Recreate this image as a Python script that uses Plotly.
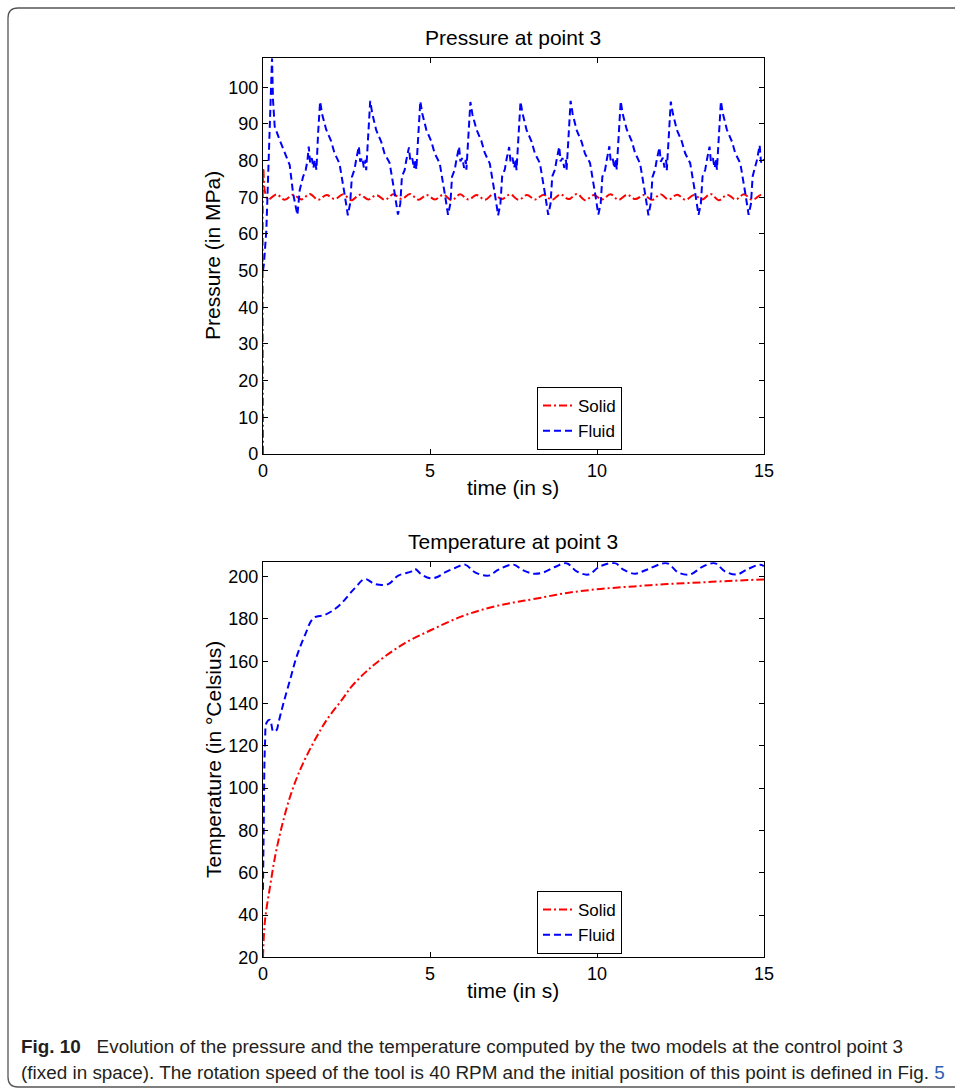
import plotly.graph_objects as go

W, H = 955, 1090
M = 10  # fixed margin on every side, absorbs any automatic margin push

# ---------------- data ----------------
# Pressure at point 3, solid model (MPa)
p_solid_t = [0.0, 0.01, 0.05, 0.15, 0.40, 0.65, 0.90, 1.15, 1.40, 1.65, 1.90, 2.15, 2.40, 2.65, 2.90,
             3.15, 3.40, 3.65, 3.90, 4.15, 4.40, 4.65, 4.90, 5.15, 5.40, 5.65, 5.90, 6.15, 6.40,
             6.65, 6.90, 7.15, 7.40, 7.65, 7.90, 8.15, 8.40, 8.65, 8.90, 9.15, 9.40, 9.65, 9.90,
             10.15, 10.40, 10.65, 10.90, 11.15, 11.40, 11.65, 11.90, 12.15, 12.40, 12.65, 12.90,
             13.15, 13.40, 13.65, 13.90, 14.15, 14.40, 14.65, 14.90, 15.0]
p_solid = [0.0, 78.0, 72.0, 69.4, 70.8, 69.3, 70.7, 69.4, 70.9, 69.3, 70.6, 69.5, 70.8, 69.2, 70.7,
           69.4, 70.6, 69.3, 70.8, 69.5, 70.9, 69.3, 70.6, 69.4, 70.7, 69.2, 70.8, 69.4, 70.6,
           69.3, 70.9, 69.5, 70.8, 69.3, 70.6, 69.4, 70.7, 69.3, 70.8, 69.5, 70.9, 69.2, 70.6,
           69.4, 70.8, 69.3, 70.7, 69.5, 70.6, 69.3, 70.8, 69.4, 70.7, 69.3, 70.6, 69.4, 70.9,
           69.2, 70.7, 69.4, 70.8, 69.3, 70.6, 70.3]

# Pressure at point 3, fluid model (MPa)
p_fluid_t = [0.00, 0.03, 0.10, 0.20, 0.27, 0.30, 0.35, 0.50, 0.65, 0.80, 0.90, 1.03, 1.10, 1.20,
             1.28, 1.33, 1.37, 1.41, 1.46, 1.51, 1.55, 1.60, 1.65,
             1.71, 1.77, 1.89, 2.04, 2.14, 2.29, 2.36, 2.44, 2.54, 2.61, 2.66, 2.74, 2.79, 2.87,
             2.91, 2.97, 3.02, 3.07, 3.09, 3.14, 3.19,
             3.21, 3.27, 3.39, 3.54, 3.64, 3.79, 3.86, 3.94, 4.04, 4.11, 4.16, 4.24, 4.29, 4.37,
             4.41, 4.47, 4.52, 4.57, 4.59, 4.64, 4.69,
             4.71, 4.77, 4.89, 5.04, 5.14, 5.29, 5.36, 5.44, 5.54, 5.61, 5.66, 5.74, 5.79, 5.87,
             5.91, 5.97, 6.02, 6.07, 6.09, 6.14, 6.19,
             6.21, 6.27, 6.39, 6.54, 6.64, 6.79, 6.86, 6.94, 7.04, 7.11, 7.16, 7.24, 7.29, 7.37,
             7.41, 7.47, 7.52, 7.57, 7.59, 7.64, 7.69,
             7.71, 7.77, 7.89, 8.04, 8.14, 8.29, 8.36, 8.44, 8.54, 8.61, 8.66, 8.74, 8.79, 8.87,
             8.91, 8.97, 9.02, 9.07, 9.09, 9.14, 9.19,
             9.21, 9.27, 9.39, 9.54, 9.64, 9.79, 9.86, 9.94, 10.04, 10.11, 10.16, 10.24, 10.29, 10.37,
             10.41, 10.47, 10.52, 10.57, 10.59, 10.64, 10.69,
             10.71, 10.77, 10.89, 11.04, 11.14, 11.29, 11.36, 11.44, 11.54, 11.61, 11.66, 11.74, 11.79, 11.87,
             11.91, 11.97, 12.02, 12.07, 12.09, 12.14, 12.19,
             12.21, 12.27, 12.39, 12.54, 12.64, 12.79, 12.86, 12.94, 13.04, 13.11, 13.16, 13.24, 13.29, 13.37,
             13.41, 13.47, 13.52, 13.57, 13.59, 13.64, 13.69,
             13.71, 13.77, 13.89, 14.04, 14.14, 14.29, 14.36, 14.44, 14.54, 14.61, 14.66, 14.74, 14.79, 14.87,
             14.91, 14.97, 15.00]
p_fluid = [50.0, 52.0, 61.0, 87.5, 107.9, 96.5, 89.3, 85.6, 82.0, 78.8, 71.1, 65.2, 72.0, 75.6,
           77.5, 80.0, 83.8, 79.5, 80.7, 78.0, 80.2, 77.5, 87.5,
           96.1, 92.7, 88.5, 85.3, 82.1, 79.2, 75.6, 71.0, 65.1, 68.4, 75.5, 77.6, 80.3, 83.9,
           79.7, 80.8, 78.1, 80.2, 77.4, 84.7, 92.8,
           96.3, 92.9, 88.3, 85.1, 81.9, 79.4, 75.8, 71.2, 65.3, 68.2, 75.7, 77.4, 80.1, 83.6,
           79.9, 80.6, 77.9, 80.3, 77.6, 84.9, 93.0,
           96.2, 92.8, 88.4, 85.2, 82.0, 79.3, 75.7, 71.1, 65.2, 68.3, 75.6, 77.5, 80.2, 83.8,
           79.8, 80.7, 78.0, 80.2, 77.5, 84.8, 92.9,
           96.0, 92.6, 88.5, 85.3, 82.1, 79.2, 75.6, 71.0, 65.1, 68.4, 75.7, 77.6, 80.3, 83.7,
           79.7, 80.8, 78.1, 80.1, 77.4, 84.7, 92.8,
           96.1, 92.9, 88.4, 85.2, 82.0, 79.3, 75.7, 71.1, 65.2, 68.3, 75.7, 77.5, 80.2, 83.8,
           79.8, 80.7, 78.0, 80.2, 77.5, 84.8, 92.9,
           96.3, 92.8, 88.3, 85.1, 81.9, 79.4, 75.8, 71.2, 65.3, 68.2, 75.6, 77.4, 80.1, 83.9,
           79.9, 80.6, 77.9, 80.3, 77.6, 84.9, 93.0,
           96.2, 92.7, 88.5, 85.3, 82.1, 79.2, 75.6, 71.0, 65.1, 68.4, 75.5, 77.6, 80.3, 83.6,
           79.7, 80.8, 78.1, 80.2, 77.4, 84.7, 92.8,
           96.1, 92.9, 88.4, 85.2, 82.0, 79.3, 75.7, 71.1, 65.2, 68.3, 75.7, 77.5, 80.2, 83.8,
           79.8, 80.7, 78.0, 80.2, 77.5, 84.8, 92.9,
           96.2, 92.8, 88.4, 85.2, 82.0, 79.3, 75.7, 71.1, 65.2, 68.3, 75.7, 78.1, 80.2, 84.2,
           79.5, 80.6, 80.1]

# Temperature at point 3 (Celsius)
t_solid_t = [0.0, 0.06, 0.21, 0.36, 0.56, 0.81, 1.11, 1.51, 1.91, 2.36, 2.65, 3.05, 3.45, 4.25,
             5.05, 5.95, 6.75, 7.50, 8.10, 9.10, 10.10, 11.10, 12.10, 13.10, 14.10, 15.0]
t_solid = [20.0, 37.5, 53.3, 67.5, 81.7, 95.9, 108.6, 121.5, 132.3, 141.7, 148.0, 154.5, 159.9, 168.6,
           174.9, 181.2, 185.2, 187.8, 189.4, 192.3, 194.2, 195.4, 196.5, 197.3, 198.1, 198.7]

t_fluid_t = [0.0, 0.02, 0.06, 0.11, 0.21, 0.31, 0.41, 0.46, 0.61, 0.81, 1.01, 1.26, 1.51, 1.86,
             2.25, 2.75, 3.05, 3.35, 3.75, 4.05, 4.45, 4.55, 4.75, 5.00, 5.20, 5.45, 5.75, 6.05,
             6.35, 6.75, 7.05, 7.50, 7.75, 8.10, 8.40, 8.74, 9.09, 9.39, 9.74, 10.09, 10.54, 10.79,
             11.14, 11.49, 12.09, 12.43, 12.78, 13.18, 13.53, 13.83, 14.18, 14.48, 14.88, 15.0]
t_fluid = [52.0, 80.0, 121.0, 131.0, 132.3, 126.7, 127.5, 130.7, 140.0, 151.2, 162.3, 172.5, 180.4, 182.0,
           185.9, 194.6, 198.9, 196.5, 196.5, 200.5, 202.5, 203.6, 201.0, 199.3, 199.7, 202.0, 204.1, 205.7,
           202.0, 200.5, 203.3, 205.7, 203.3, 201.4, 202.0, 204.6, 206.4, 202.5, 201.0, 204.9, 206.4, 203.3,
           201.4, 203.3, 206.4, 202.0, 201.0, 204.9, 206.4, 202.5, 201.0, 203.3, 205.7, 205.0]

x_ticks = [0, 5, 10, 15]
p_ticks = [0, 10, 20, 30, 40, 50, 60, 70, 80, 90, 100]
t_ticks = [20, 40, 60, 80, 100, 120, 140, 160, 180, 200]

FONT = "Liberation Sans, Arial, sans-serif"
RED_DASH = "8px,3px,2px,3px"
BLUE_DASH = "7px,4px"


# page pixels -> paper fractions (paper = area inside the fixed margins)
def px_x(v):
    return (v - M) / (W - 2 * M)


def px_y(v):
    return 1 - (v - M) / (H - 2 * M)


fig = go.Figure()

fig.add_trace(go.Scatter(x=p_solid_t, y=p_solid, name="Solid", mode="lines", line_shape="spline",
                         line=dict(color="#ff0000", width=2, dash=RED_DASH),
                         xaxis="x", yaxis="y", legend="legend"))
fig.add_trace(go.Scatter(x=p_fluid_t, y=p_fluid, name="Fluid", mode="lines",
                         line=dict(color="#0000ff", width=2, dash=BLUE_DASH),
                         xaxis="x", yaxis="y", legend="legend"))
fig.add_trace(go.Scatter(x=t_solid_t, y=t_solid, name="Solid", mode="lines", line_shape="spline",
                         line=dict(color="#ff0000", width=2, dash=RED_DASH),
                         xaxis="x2", yaxis="y2", legend="legend2"))
fig.add_trace(go.Scatter(x=t_fluid_t, y=t_fluid, name="Fluid", mode="lines", line_shape="spline",
                         line=dict(color="#0000ff", width=2, dash=BLUE_DASH),
                         xaxis="x2", yaxis="y2", legend="legend2"))

axis_common = dict(showline=True, linecolor="black", linewidth=1.3, mirror="ticks",
                   ticks="inside", ticklen=5, tickcolor="black", tickwidth=1,
                   showgrid=False, zeroline=False, automargin=False,
                   tickfont=dict(family=FONT, size=18, color="black"))

fig.update_layout(
    width=W, height=H, autosize=False,
    margin=dict(l=M, r=M, t=M, b=M),
    paper_bgcolor="white", plot_bgcolor="white",
    font=dict(family=FONT, color="black"),
    showlegend=True,
    xaxis=dict(domain=[px_x(263), px_x(764)], range=[0, 15], tickvals=x_ticks,
               anchor="y", **axis_common),
    yaxis=dict(domain=[px_y(454), px_y(58.3)], range=[0, 107.9], tickvals=p_ticks,
               anchor="x", **axis_common),
    xaxis2=dict(domain=[px_x(263), px_x(764)], range=[0, 15], tickvals=x_ticks,
                anchor="y2", **axis_common),
    yaxis2=dict(domain=[px_y(957.3), px_y(562.3)], range=[20, 206.8], tickvals=t_ticks,
                anchor="x2", **axis_common),
    legend=dict(x=px_x(537), y=px_y(387), xanchor="left", yanchor="top",
                bordercolor="black", borderwidth=1, bgcolor="white",
                font=dict(family=FONT, size=17, color="black"), itemwidth=30,
                tracegroupgap=0),
    legend2=dict(x=px_x(537), y=px_y(891), xanchor="left", yanchor="top",
                 bordercolor="black", borderwidth=1, bgcolor="white",
                 font=dict(family=FONT, size=17, color="black"), itemwidth=30,
                 tracegroupgap=0),
)

title_font = dict(family=FONT, size=21, color="black")
annotations = [
    dict(text="Pressure at point 3", x=px_x(513), y=px_y(38)),
    dict(text="time (in s)", x=px_x(513), y=px_y(487)),
    dict(text="Pressure (in MPa)", x=px_x(213), y=px_y(256), textangle=-90),
    dict(text="Temperature at point 3", x=px_x(513), y=px_y(541)),
    dict(text="time (in s)", x=px_x(513), y=px_y(990)),
    dict(text="Temperature (in \u00b0Celsius)", x=px_x(213), y=px_y(760), textangle=-90),
]
for a in annotations:
    fig.add_annotation(xref="paper", yref="paper", xanchor="center", yanchor="middle",
                       showarrow=False, font=title_font, **a)

cap_font = dict(family=FONT, size=18.9, color="#231f20")
fig.add_annotation(xref="paper", yref="paper", x=px_x(19), y=px_y(1046), xanchor="left", yanchor="middle",
                   showarrow=False, font=cap_font,
                   text="<b>Fig. 10</b>   Evolution of the pressure and the temperature computed by the two "
                        "models at the control point 3")
fig.add_annotation(xref="paper", yref="paper", x=px_x(19), y=px_y(1072), xanchor="left", yanchor="middle",
                   showarrow=False, font=cap_font,
                   text="(fixed in space). The rotation speed of the tool is 40 RPM and the initial position "
                        "of this point is defined in Fig. <span style='color:#2b5fb4'>5</span>")

# rounded frame around the figure (open on the right)
x0, top, bot, r = 8, 8, 1087, 10
frame = (f"M {px_x(W + 5)},{px_y(top)} L {px_x(x0 + r)},{px_y(top)} "
         f"Q {px_x(x0)},{px_y(top)} {px_x(x0)},{px_y(top + r)} "
         f"L {px_x(x0)},{px_y(bot - r)} Q {px_x(x0)},{px_y(bot)} {px_x(x0 + r)},{px_y(bot)} "
         f"L {px_x(W + 5)},{px_y(bot)}")
fig.add_shape(type="path", path=frame, xref="paper", yref="paper",
              line=dict(color="#555555", width=1.3))

fig.write_html("out.html", config={"displayModeBar": False},
               post_script="document.body.style.margin='0';document.body.style.overflow='hidden';")
